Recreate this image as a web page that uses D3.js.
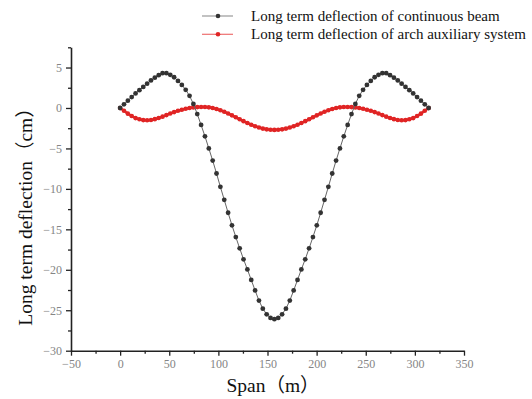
<!DOCTYPE html>
<html>
<head>
<meta charset="utf-8">
<script src="https://cdn.jsdelivr.net/npm/d3@7"></script>
<style>
  body { margin: 0; background: #fff; }
  svg { display: block; }
  .tick-label { font-family: "Liberation Serif", serif; font-size: 12px; fill: #858585; }
  .axis-title { font-family: "Liberation Serif", "Noto Sans CJK SC", serif; font-size: 19.5px; fill: #111; }
  .legend-text { font-family: "Liberation Serif", serif; font-size: 15px; fill: #111; }
</style>
</head>
<body>
<div id="chart"></div>
<script>
// span stations (m)
const spanX = [
  0, 3.925, 7.85, 11.775, 15.7, 19.625, 23.55, 27.475, 31.4, 35.325,
  39.25, 43.175, 47.1, 51.025, 54.95, 58.875, 62.8, 66.725, 70.65, 74.575,
  78.5, 82.425, 86.35, 90.275, 94.2, 98.125, 102.05, 105.975, 109.9, 113.825,
  117.75, 121.675, 125.6, 129.525, 133.45, 137.375, 141.3, 145.225, 149.15, 153.075,
  157,
  160.925, 164.85, 168.775, 172.7, 176.625, 180.55, 184.475, 188.4, 192.325,
  196.25, 200.175, 204.1, 208.025, 211.95, 215.875, 219.8, 223.725, 227.65, 231.575,
  235.5, 239.425, 243.35, 247.275, 251.2, 255.125, 259.05, 262.975, 266.9, 270.825,
  274.75, 278.675, 282.6, 286.525, 290.45, 294.375, 298.3, 302.225, 306.15, 310.075,
  314
];

// long term deflection of continuous beam (cm)
const continuousBeam = [
  0, 0.45, 0.9, 1.35, 1.8, 2.2, 2.6, 3.0, 3.4, 3.75,
  4.05, 4.3, 4.3, 4.1, 3.8, 3.35, 2.85, 2.25, 1.5, 0.5,
  -0.75, -2.1, -3.5, -5.0, -6.5, -8.1, -9.75, -11.35, -12.95, -14.5,
  -15.95, -17.35, -18.7, -19.95, -21.25, -22.55, -23.8, -24.8, -25.5, -25.95,
  -26.1,
  -25.95, -25.5, -24.8, -23.8, -22.55, -21.25, -19.95, -18.7, -17.35,
  -15.95, -14.5, -12.95, -11.35, -9.75, -8.1, -6.5, -5.0, -3.5, -2.1,
  -0.75, 0.5, 1.5, 2.25, 2.85, 3.35, 3.8, 4.1, 4.3, 4.3,
  4.05, 3.75, 3.4, 3.0, 2.6, 2.2, 1.8, 1.35, 0.9, 0.45,
  0
];

// long term deflection of arch auxiliary system (cm)
const archSystem = [
  0, -0.35, -0.7, -1.0, -1.25, -1.4, -1.5, -1.52, -1.48, -1.38,
  -1.24, -1.07, -0.88, -0.69, -0.51, -0.35, -0.21, -0.09, 0.0, 0.07,
  0.11, 0.13, 0.12, 0.08, 0.0, -0.12, -0.28, -0.47, -0.68, -0.91,
  -1.15, -1.39, -1.63, -1.86, -2.07, -2.26, -2.42, -2.55, -2.64, -2.69,
  -2.71,
  -2.69, -2.64, -2.55, -2.42, -2.26, -2.07, -1.86, -1.63, -1.39,
  -1.15, -0.91, -0.68, -0.47, -0.28, -0.12, 0.0, 0.08, 0.12, 0.13,
  0.11, 0.07, 0.0, -0.09, -0.21, -0.35, -0.51, -0.69, -0.88, -1.07,
  -1.24, -1.38, -1.48, -1.52, -1.5, -1.4, -1.25, -1.0, -0.7, -0.35,
  0
];

const xTicks = [-50, 0, 50, 100, 150, 200, 250, 300, 350];
const xMinorTicks = [-25, 25, 75, 125, 175, 225, 275, 325];
const yTicks = [-30, -25, -20, -15, -10, -5, 0, 5];
const yMinorTicks = [-27.5, -22.5, -17.5, -12.5, -7.5, -2.5, 2.5, 7.5];

const seriesNames = [
  'Long term deflection of continuous beam',
  'Long term deflection of arch auxiliary system'
];

const width = 532, height = 399;
const margin = { top: 47.3, right: 68, bottom: 48.3, left: 71 };

const svg = d3.select('#chart').append('svg')
  .attr('width', width)
  .attr('height', height);

const x_scale = d3.scaleLinear()
  .domain([-50, 350])
  .range([margin.left, width - margin.right]);

const y_scale = d3.scaleLinear()
  .domain([-30, 7.5])
  .range([height - margin.bottom, margin.top]);

// axes
const xAxis = svg.append('g')
  .attr('class', 'x-axis')
  .attr('transform', 'translate(0,' + y_scale(-30) + ')')
  .call(d3.axisBottom(x_scale).tickValues(xTicks).tickSize(5).tickPadding(4).tickSizeOuter(0));

xAxis.append('g')
  .call(d3.axisBottom(x_scale).tickValues(xMinorTicks).tickSize(3).tickFormat(''))
  .select('.domain').remove();

const yAxis = svg.append('g')
  .attr('class', 'y-axis')
  .attr('transform', 'translate(' + x_scale(-50) + ',0)')
  .call(d3.axisLeft(y_scale).tickValues(yTicks).tickSize(5).tickPadding(4).tickSizeOuter(0));

yAxis.append('g')
  .call(d3.axisLeft(y_scale).tickValues(yMinorTicks).tickSize(3).tickFormat(''))
  .select('.domain').remove();

svg.selectAll('.domain').attr('stroke', '#222').attr('stroke-width', 1.6);
svg.selectAll('.tick line').attr('stroke', '#222').attr('stroke-width', 1.3);
svg.selectAll('.tick text')
  .attr('class', 'tick-label')
  .attr('font-family', null)
  .attr('font-size', null)
  .attr('fill', null);

// axis titles
svg.append('text')
  .attr('class', 'axis-title')
  .attr('x', 273)
  .attr('y', 392)
  .attr('text-anchor', 'middle')
  .text('Span（m）');

svg.append('text')
  .attr('class', 'axis-title')
  .attr('transform', 'translate(32,212) rotate(-90)')
  .attr('text-anchor', 'middle')
  .text('Long term deflection（cm）');

// series
const line = d3.line()
  .x((d, i) => x_scale(spanX[i]))
  .y((d) => y_scale(d));

const series = [
  { values: archSystem, line: '#e3302f', lineWidth: 2.6, dot: '#e02424', r: 2.3 },
  { values: continuousBeam, line: '#666', lineWidth: 1, dot: '#333', r: 2.4 }
];

series.forEach((s) => {
  svg.append('path')
    .datum(s.values)
    .attr('fill', 'none')
    .attr('stroke', s.line)
    .attr('stroke-width', s.lineWidth)
    .attr('d', line);

  svg.append('g')
    .selectAll('circle')
    .data(s.values)
    .enter()
    .append('circle')
    .attr('cx', (d, i) => x_scale(spanX[i]))
    .attr('cy', (d) => y_scale(d))
    .attr('r', s.r)
    .attr('fill', s.dot);
});

// legend
const legendColors = [
  { line: '#9a9a9a', dot: '#333' },
  { line: '#ee7070', dot: '#e02424' }
];

const legend = svg.append('g').attr('class', 'legend');

seriesNames.forEach((name, i) => {
  const ly = 16 + i * 18.3;
  legend.append('line')
    .attr('x1', 202).attr('x2', 233)
    .attr('y1', ly).attr('y2', ly)
    .attr('stroke', legendColors[i].line)
    .attr('stroke-width', 1.2);
  legend.append('circle')
    .attr('cx', 218).attr('cy', ly)
    .attr('r', 2.3)
    .attr('fill', legendColors[i].dot);
  legend.append('text')
    .attr('class', 'legend-text')
    .attr('x', 251)
    .attr('y', ly + 4.8)
    .text(name);
});
</script>
</body>
</html>
